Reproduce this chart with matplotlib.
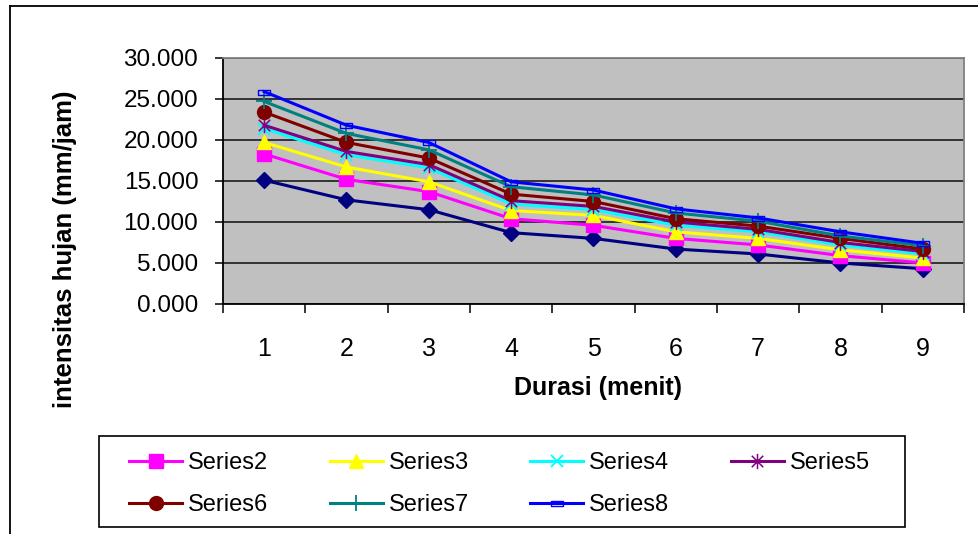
import matplotlib
matplotlib.use("Agg")
import matplotlib.pyplot as plt
from matplotlib.path import Path
from matplotlib.patches import Rectangle
from matplotlib.lines import Line2D
from matplotlib.ticker import FixedLocator, FuncFormatter, NullFormatter

plt.rcParams['font.family'] = ['Liberation Sans', 'DejaVu Sans']

durasi = [1, 2, 3, 4, 5, 6, 7, 8, 9]
series1 = [15.1, 12.7, 11.5, 8.7, 8.0, 6.7, 6.1, 5.0, 4.3]
series2 = [18.3, 15.2, 13.7, 10.4, 9.6, 8.0, 7.2, 5.9, 5.0]
series3 = [19.7, 16.7, 14.9, 11.4, 10.8, 8.8, 8.0, 6.6, 5.6]
series4 = [21.4, 18.2, 16.6, 12.2, 11.5, 9.6, 8.8, 7.2, 6.1]
series5 = [21.8, 18.6, 17.0, 12.6, 11.9, 10.0, 9.1, 7.5, 6.4]
series6 = [23.4, 19.7, 17.8, 13.4, 12.5, 10.4, 9.5, 8.0, 6.7]
series7 = [24.7, 20.8, 18.8, 14.3, 13.3, 11.1, 10.1, 8.3, 7.1]
series8 = [25.9, 21.8, 19.7, 14.9, 13.9, 11.6, 10.5, 8.8, 7.4]
names = ["Series1", "Series2", "Series3", "Series4", "Series5", "Series6", "Series7", "Series8"]
yticks = [0, 5, 10, 15, 20, 25, 30]

asterisk = Path([(0, -1), (0, 1), (-0.75, -0.75), (0.75, 0.75), (-0.75, 0.75), (0.75, -0.75)],
                [Path.MOVETO, Path.LINETO, Path.MOVETO, Path.LINETO, Path.MOVETO, Path.LINETO])
dash_rect = Path([(-1, -0.45), (1, -0.45), (1, 0.45), (-1, 0.45), (-1, -0.45)],
                 [Path.MOVETO, Path.LINETO, Path.LINETO, Path.LINETO, Path.CLOSEPOLY])

styles = [
    dict(color='#000080', marker='D', ms=8.5, mfc='#000080', mec='#000080'),
    dict(color='#FF00FF', marker='s', ms=9.5, mfc='#FF00FF', mec='#FF00FF'),
    dict(color='#FFFF00', marker='^', ms=10.5, mfc='#FFFF00', mec='#FFFF00'),
    dict(color='#00FFFF', marker='x', ms=9, mfc='none', mec='#00FFFF', mew=1.3),
    dict(color='#800080', marker=asterisk, ms=11, mfc='none', mec='#800080', mew=1.1),
    dict(color='#800000', marker='o', ms=10, mfc='#800000', mec='#800000'),
    dict(color='#008080', marker='+', ms=12, mfc='none', mec='#008080', mew=1.3),
    dict(color='#0000FF', marker=dash_rect, ms=8, mfc='none', mec='#0000FF', mew=1.0),
]
data = [series1, series2, series3, series4, series5, series6, series7, series8]

W, H = 979, 534
fig = plt.figure(figsize=(W / 100, H / 100), dpi=100)
fig.patch.set_facecolor('white')

# outer chart border (left and top visible)
fig.add_artist(Line2D([10 / W, 10 / W], [0, 1 - 6 / H], color='black', lw=1.3))
fig.add_artist(Line2D([10 / W, 1], [1 - 6 / H, 1 - 6 / H], color='black', lw=1.3))

ax = fig.add_axes([223 / W, 1 - 304 / H, (964 - 223) / W, (304 - 58) / H])
ax.set_facecolor('#C0C0C0')

handles = []
for name, vals, st in zip(names, data, styles):
    ln, = ax.plot(durasi, vals, lw=2.2, label=name, zorder=3, **st)
    handles.append(ln)

ax.set_xlim(0.5, 9.5)
ax.set_ylim(0, 30)
ax.set_yticks(yticks)
ax.yaxis.set_major_formatter(FuncFormatter(lambda v, p: f"{v:.3f}"))
ax.grid(axis='y', color='#333333', lw=1.4, zorder=1)
ax.set_axisbelow(True)

ax.xaxis.set_major_locator(FixedLocator([i + 0.5 for i in range(0, 10)]))
ax.xaxis.set_major_formatter(NullFormatter())
ax.xaxis.set_minor_locator(FixedLocator(durasi))
ax.xaxis.set_minor_formatter(FuncFormatter(lambda v, p: f"{int(round(v))}"))
ax.tick_params(axis='x', which='major', direction='out', length=6.5, width=1.1, color='black')
ax.tick_params(axis='x', which='minor', length=0, pad=24, labelsize=18)
ax.tick_params(axis='y', direction='out', length=5.8, width=1.1, pad=12, labelsize=17.5)

for s in ['left', 'bottom']:
    ax.spines[s].set_color('black')
    ax.spines[s].set_linewidth(1.3)
for s in ['top', 'right']:
    ax.spines[s].set_color('#808080')
    ax.spines[s].set_linewidth(1.3)

ax.set_xlabel("Durasi (menit)", fontsize=18, fontweight='bold')
ax.xaxis.set_label_coords(0.506, -0.293)
ax.set_ylabel("intensitas hujan (mm/jam)", fontsize=18.5, fontweight='bold')
ax.yaxis.label.set_va('center')
ax.yaxis.set_label_coords(-0.213, 0.224)

# legend frame
fig.add_artist(Rectangle((99 / W, 1 - 527 / H), (905 - 99) / W, (527 - 436) / H,
                         transform=fig.transFigure, fill=False, edgecolor='black', lw=1.2))
h = handles
order = [h[1], h[5], h[2], h[6], h[3], h[7], h[4]]
leg = fig.legend(order, [l.get_label() for l in order], ncol=4, frameon=False,
                 loc='center left', bbox_to_anchor=(129 / W, 1 - 484 / H),
                 borderaxespad=0, borderpad=0, fontsize=17, handlelength=2.25,
                 handletextpad=0.25, columnspacing=2.6, labelspacing=0.85)

fig.savefig("out.png", dpi=100)
